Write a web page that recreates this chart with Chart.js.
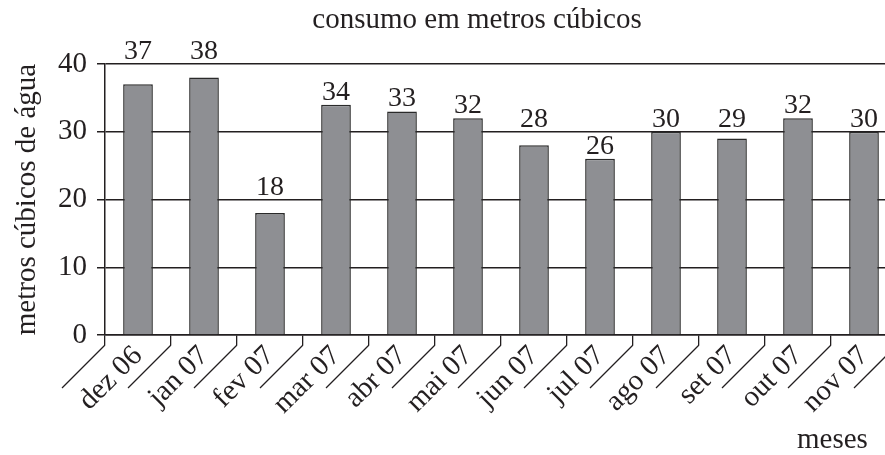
<!DOCTYPE html>
<html>
<head>
<meta charset="utf-8">
<script src="https://cdn.jsdelivr.net/npm/chart.js@4.4.0/dist/chart.umd.min.js"></script>
<style>
   body { margin: 0; overflow: hidden; background: #fff; }
   #box { width: 897px; height: 455px; }
</style>
</head>
<body>
<div id="box"><canvas id="grafico"></canvas></div>
<script>
const meses = ['dez 06', 'jan 07', 'fev 07', 'mar 07', 'abr 07', 'mai 07', 'jun 07', 'jul 07', 'ago 07', 'set 07', 'out 07', 'nov 07']
const consumo = [37, 38, 18, 34, 33, 32, 28, 26, 30, 29, 32, 30]
const yTicks = [0, 10, 20, 30, 40]
const titulo = 'consumo em metros cúbicos'
const tituloY = 'metros cúbicos de água'
const tituloX = 'meses'

const preto = '#231f20'
const fonte = '"Liberation Serif", "Times New Roman", serif'
Chart.defaults.font.family = fonte

// numeros em cima das barras, sobem acima da linha de grade se cruzarem
let rotulos = {
   id: 'rotulos',
   afterDatasetsDraw(chart) {
      const ctx = chart.ctx
      const y = chart.scales.y
      const meta = chart.getDatasetMeta(0)
      ctx.save()
      ctx.font = '28px ' + fonte
      ctx.fillStyle = preto
      ctx.textAlign = 'center'
      ctx.textBaseline = 'alphabetic'
      meta.data.forEach((bar, i) => {
         let base = bar.y - 5
         yTicks.forEach(v => {
            let gy = y.getPixelForValue(v)
            if (gy < bar.y + 0.5 && gy > base - 20) base = gy - 5
         })
         ctx.fillText(String(consumo[i]), bar.x, base)
      })
      ctx.restore()
   }
}

// tracos diagonais sob o eixo x, titulo e "meses"
let extras = {
   id: 'extras',
   afterDraw(chart) {
      const x = chart.scales.x
      const ctx = chart.ctx
      const passo = x.width / meses.length
      ctx.save()
      ctx.strokeStyle = preto
      ctx.lineWidth = 1.3
      for (let i = 0; i <= meses.length; i++) {
         let xb = x.left + i * passo
         ctx.beginPath()
         ctx.moveTo(xb, x.top + 10)
         ctx.lineTo(xb - 43, x.top + 53)
         ctx.stroke()
      }
      ctx.fillStyle = preto
      ctx.font = '29px ' + fonte
      ctx.textAlign = 'center'
      ctx.textBaseline = 'alphabetic'
      ctx.fillText(titulo, 477, 28)
      ctx.textAlign = 'left'
      ctx.fillText(tituloX, 797, 448)
      ctx.restore()
   }
}

new Chart(document.getElementById('grafico'), {
   type: 'bar',
   data: {
      labels: meses,
      datasets: [{
         data: consumo,
         backgroundColor: '#8e8f93',
         borderColor: '#2a2a2a',
         borderWidth: 1.5,
         barPercentage: 0.45,
         categoryPercentage: 1
      }]
   },
   options: {
      responsive: true,
      maintainAspectRatio: false,
      animation: false,
      layout: { padding: { top: 64, right: 0, bottom: 0, left: 0 } },
      plugins: {
         legend: { display: false },
         tooltip: { enabled: false },
         title: { display: false }
      },
      scales: {
         x: {
            offset: true,
            grid: { display: true, drawOnChartArea: false, drawTicks: true, tickLength: 10, color: preto, lineWidth: 1.3, offset: true },
            border: { display: true, color: preto, width: 1.5 },
            ticks: { autoSkip: false, maxRotation: 45, minRotation: 45, color: preto, font: { size: 29 }, padding: -6 },
            afterFit(s) { s.height = 120 }
         },
         y: {
            min: yTicks[0],
            max: yTicks[yTicks.length - 1],
            ticks: { stepSize: 10, color: preto, font: { size: 29 }, padding: 10 },
            grid: { color: preto, lineWidth: 1.5, tickLength: 8 },
            border: { color: preto, width: 1.5 },
            title: { display: true, text: tituloY, color: preto, font: { size: 29 }, padding: { top: 10, bottom: 0 } },
            afterFit(s) { s.width = 105 }
         }
      }
   },
   plugins: [rotulos, extras]
})
</script>
</body>
</html>
